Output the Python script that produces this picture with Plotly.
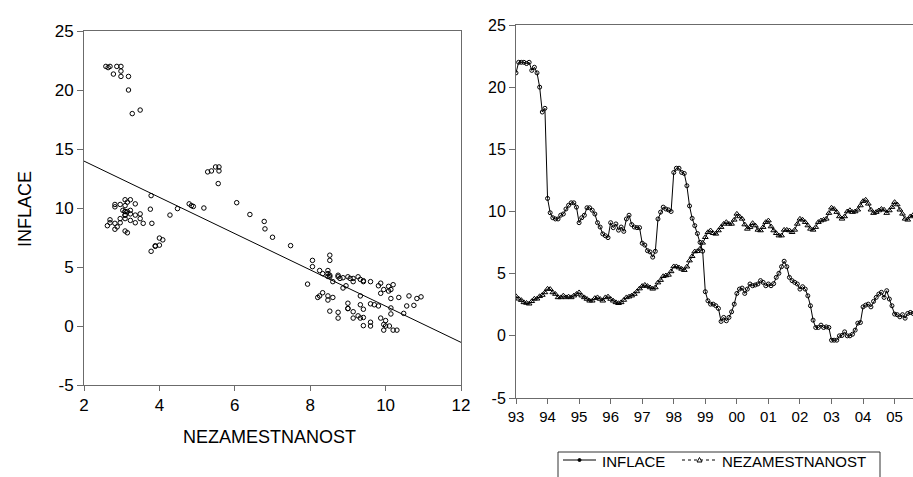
import numpy as np
import plotly.graph_objects as go

# ---------------- data (monthly, 1993M01 - 2005M08) ----------------
START_YEAR = 1993
INFLACE = [
    21.15, 22.0, 22.0, 22.0, 21.9, 22.0, 21.35, 21.6, 21.15, 20.0, 18.0, 18.3,   # 1993
    11.05, 9.9, 9.5, 9.4, 9.4, 9.7, 9.8, 10.2, 10.5, 10.7, 10.7, 10.35,          # 1994
    9.1, 9.5, 9.7, 10.3, 10.3, 10.1, 9.8, 9.1, 8.75, 8.2, 8.05, 7.9,             # 1995
    9.1, 8.7, 9.0, 8.5, 8.75, 8.4, 9.4, 9.7, 8.95, 8.75, 8.7, 8.7,               # 1996
    7.45, 7.3, 6.85, 6.75, 6.33, 6.8, 9.4, 9.95, 10.35, 10.2, 10.13, 10.0,       # 1997
    13.14, 13.48, 13.48, 13.14, 13.06, 12.07, 10.45, 9.45, 8.86, 8.23, 7.52, 6.81,  # 1998
    3.55, 2.82, 2.55, 2.55, 2.42, 2.2, 1.16, 1.48, 1.21, 1.48, 1.93, 2.55,       # 1999
    3.41, 3.76, 3.84, 3.41, 3.76, 4.17, 4.03, 4.09, 4.17, 4.44, 4.3, 4.03,       # 2000
    4.17, 4.03, 4.2, 4.7, 5.03, 5.56, 6.0, 5.56, 4.7, 4.44, 4.3, 4.17,           # 2001
    3.76, 3.95, 3.76, 3.22, 2.42, 1.26, 0.67, 0.67, 0.86, 0.67, 0.72, 0.67,      # 2002
    -0.35, -0.35, -0.35, 0.0, 0.03, 0.32, 0.0, 0.0, 0.13, 0.46, 1.02, 1.07,      # 2003
    2.33, 2.47, 2.55, 2.33, 2.77, 3.09, 3.36, 3.5, 3.09, 3.63, 2.96, 2.42,       # 2004
    1.75, 1.7, 1.53, 1.7, 1.42, 1.8, 1.88, 1.8,                                  # 2005
]
NEZAMESTNANOST = [
    3.18, 2.98, 2.87, 2.69, 2.64, 2.58, 2.78, 2.98, 2.98, 3.18, 3.28, 3.49,      # 1993
    3.78, 3.76, 3.49, 3.36, 3.09, 3.09, 3.23, 3.09, 3.15, 3.09, 3.23, 3.36,      # 1994
    3.49, 3.23, 3.09, 2.96, 2.82, 2.82, 3.03, 3.09, 2.96, 2.82, 3.09, 3.15,      # 1995
    2.96, 2.82, 2.69, 2.62, 2.69, 2.88, 3.09, 3.15, 3.23, 3.36, 3.57, 3.8,       # 1996
    4.0, 4.09, 4.0, 3.89, 3.78, 3.89, 4.28, 4.48, 4.79, 4.85, 4.9, 5.18,         # 1997
    5.58, 5.58, 5.49, 5.38, 5.28, 5.56, 6.05, 6.4, 6.78, 6.8, 7.0, 7.48,         # 1998
    7.93, 8.33, 8.47, 8.25, 8.2, 8.47, 8.74, 9.0, 9.14, 9.0, 9.0, 9.33,          # 1999
    9.81, 9.6, 9.41, 8.95, 8.6, 8.74, 9.06, 8.87, 8.52, 8.47, 8.74, 9.14,        # 2000
    9.27, 8.79, 8.47, 8.25, 8.06, 8.06, 8.52, 8.52, 8.47, 8.33, 8.52, 9.0,       # 2001
    9.41, 9.33, 9.14, 8.87, 8.6, 8.52, 8.74, 9.14, 9.27, 9.33, 9.41, 9.87,       # 2002
    10.3, 10.2, 9.95, 9.6, 9.41, 9.6, 10.0, 10.1, 9.95, 10.0, 10.14, 10.48,      # 2003
    10.83, 10.94, 10.62, 10.14, 9.87, 9.95, 10.08, 10.2, 10.14, 9.87, 10.08, 10.35,  # 2004
    10.75, 10.56, 10.14, 9.81, 9.41, 9.33, 9.6, 9.7,                             # 2005
]
SERIES_NAMES = ["INFLACE", "NEZAMESTNANOST"]
YEAR_TICKS = list(range(1993, 2006))
YEAR_LABELS = ["93", "94", "95", "96", "97", "98", "99", "00", "01", "02", "03", "04", "05"]
SCATTER_X_TICKS = [2, 4, 6, 8, 10, 12]
Y_TICKS = [-5, 0, 5, 10, 15, 20, 25]
Y_LABELS = ["-5", "0", "5", "10", "15", "20", "25"]

infl = np.array(INFLACE, dtype=float)
unemp = np.array(NEZAMESTNANOST, dtype=float)
t = START_YEAR + np.arange(len(infl)) / 12.0

# OLS fit of INFLACE on NEZAMESTNANOST, drawn across the scatter's x range
x_range = [SCATTER_X_TICKS[0], SCATTER_X_TICKS[-1]]
y_range = [Y_TICKS[0], Y_TICKS[-1]]
slope, intercept = np.polyfit(unemp, infl, 1)
fit_x = np.array(x_range, dtype=float)
fit_y = intercept + slope * fit_x

W, H = 913, 477
FONT = "Liberation Sans, Arial, sans-serif"
AX = "#6b6b6b"

fig = go.Figure()

# ---- left: scatter ----
fig.add_trace(go.Scatter(
    x=unemp, y=infl, mode="markers", xaxis="x", yaxis="y", showlegend=False,
    marker=dict(symbol="circle-open", size=4.5, color="black", line=dict(width=1, color="black")),
))
fig.add_trace(go.Scatter(
    x=fit_x, y=fit_y, mode="lines", xaxis="x", yaxis="y", showlegend=False,
    line=dict(color="black", width=1),
))

# ---- right: time series ----
fig.add_trace(go.Scatter(
    x=t, y=unemp, mode="lines+markers", xaxis="x2", yaxis="y2", showlegend=False,
    name=SERIES_NAMES[1],
    line=dict(color="black", width=1),
    marker=dict(symbol="triangle-up-open", size=5, color="black", line=dict(width=1, color="black")),
))
fig.add_trace(go.Scatter(
    x=t, y=infl, mode="lines+markers", xaxis="x2", yaxis="y2", showlegend=False,
    name=SERIES_NAMES[0],
    line=dict(color="black", width=1),
    marker=dict(symbol="circle-open", size=4, color="black", line=dict(width=1, color="black")),
))


# ---- manual legend (box open at the bottom edge, as in the original) ----
def px(x):
    return x / W


def py(y):
    return 1 - y / H


shapes = []
ly = 460
shapes.append(dict(type="rect", xref="paper", yref="paper", x0=px(558), x1=px(880),
                   y0=py(490), y1=py(452), line=dict(color="#333", width=1)))
shapes.append(dict(type="line", xref="paper", yref="paper", x0=px(563), x1=px(596),
                   y0=py(ly), y1=py(ly), line=dict(color="black", width=1)))
shapes.append(dict(type="circle", xref="paper", yref="paper", x0=px(578), x1=px(581),
                   y0=py(ly + 1.5), y1=py(ly - 1.5), line=dict(color="black", width=1),
                   fillcolor="black"))
shapes.append(dict(type="line", xref="paper", yref="paper", x0=px(682), x1=px(717),
                   y0=py(ly), y1=py(ly), line=dict(color="black", width=1, dash="dot")))
tri = "M {:.5f},{:.5f} L {:.5f},{:.5f} L {:.5f},{:.5f} Z".format(
    px(697), py(ly + 2), px(702), py(ly + 2), px(699.5), py(ly - 2.5))
shapes.append(dict(type="path", xref="paper", yref="paper", path=tri,
                   line=dict(color="black", width=1), fillcolor="white"))

annotations = [
    dict(text=SERIES_NAMES[0], x=px(600), y=py(461), xref="paper", yref="paper",
         showarrow=False, xanchor="left", yanchor="middle", font=dict(size=15, family=FONT)),
    dict(text=SERIES_NAMES[1], x=px(720), y=py(461), xref="paper", yref="paper",
         showarrow=False, xanchor="left", yanchor="middle", font=dict(size=15, family=FONT)),
    dict(text=SERIES_NAMES[1], x=px(269), y=py(437), xref="paper", yref="paper",
         showarrow=False, font=dict(size=18, family=FONT), xanchor="center", yanchor="middle"),
    dict(text=SERIES_NAMES[0], x=px(25), y=py(209), xref="paper", yref="paper", textangle=-90,
         showarrow=False, font=dict(size=18, family=FONT), xanchor="center", yanchor="middle"),
]

fig.update_layout(
    width=W, height=H,
    margin=dict(l=0, r=0, t=0, b=0, autoexpand=False),
    paper_bgcolor="white", plot_bgcolor="white",
    font=dict(family=FONT, color="black", size=16),
    showlegend=False,
    xaxis=dict(
        domain=[px(84), px(461)], range=x_range, tickvals=SCATTER_X_TICKS, automargin=False,
        showgrid=False, zeroline=False, showline=True, linecolor=AX, linewidth=1, mirror=True,
        ticks="outside", ticklen=5, tickcolor=AX, tickfont=dict(size=17, family=FONT),
    ),
    yaxis=dict(
        domain=[py(385), py(31)], range=y_range, tickvals=Y_TICKS, ticktext=Y_LABELS,
        automargin=False,
        showgrid=False, zeroline=False, showline=True, linecolor=AX, linewidth=1, mirror=True,
        ticks="outside", ticklen=6, tickcolor=AX, tickfont=dict(size=17, family=FONT),
    ),
    xaxis2=dict(
        domain=[px(516), 1.0], range=[t[0], t[-1]], tickvals=YEAR_TICKS, ticktext=YEAR_LABELS,
        anchor="y2", automargin=False, showgrid=False, zeroline=False, showline=True,
        linecolor=AX, linewidth=1, mirror=True, ticks="outside", ticklen=5, tickcolor=AX,
        tickfont=dict(size=15, family=FONT),
    ),
    yaxis2=dict(
        domain=[py(398), py(25)], range=y_range, tickvals=Y_TICKS, ticktext=Y_LABELS,
        anchor="x2", automargin=False,
        showgrid=False, zeroline=False, showline=True, linecolor=AX, linewidth=1, mirror=False,
        ticks="outside", ticklen=6, tickcolor=AX, tickfont=dict(size=16, family=FONT),
    ),
    shapes=shapes,
    annotations=annotations,
)

fig.write_html("out.html")
